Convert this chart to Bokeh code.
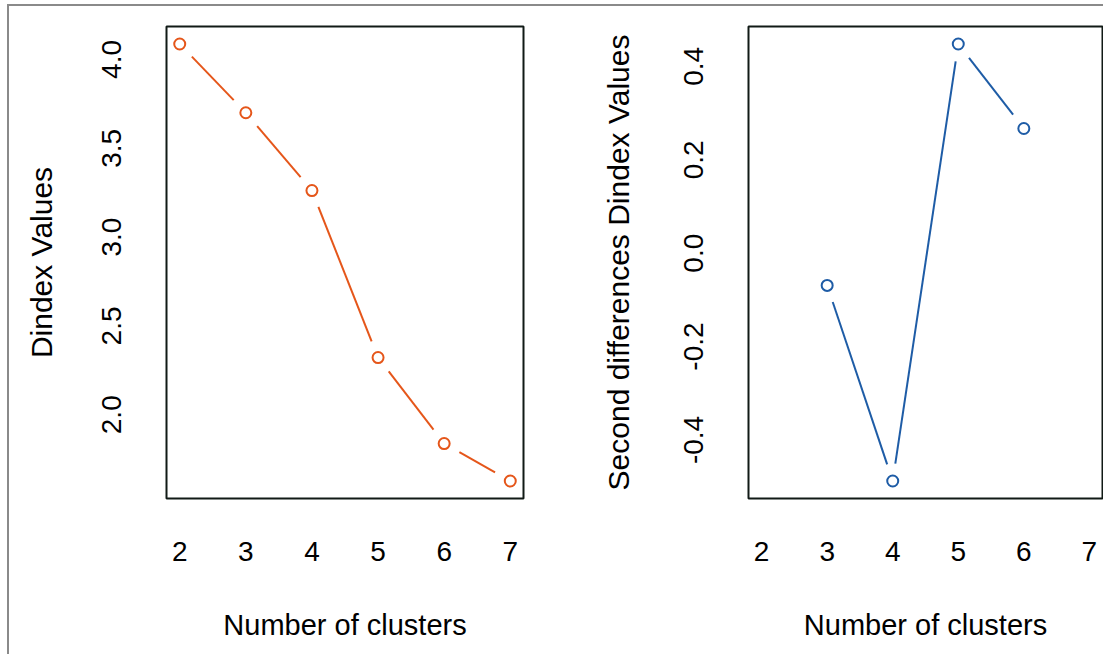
import math
from bokeh.plotting import figure
from bokeh.layouts import row
from bokeh.models import Range1d, FixedTicker, CustomJSTickFormatter
from bokeh.embed import file_html
from bokeh.resources import INLINE

# ---- data ----
clusters_left = [2, 3, 4, 5, 6, 7]
dindex_values = [4.087, 3.700, 3.262, 2.322, 1.838, 1.627]
clusters_right = [3, 4, 5, 6]
second_diff_values = [-0.069, -0.488, 0.448, 0.267]
x_tick_values = [2, 3, 4, 5, 6, 7]
left_y_ticks = [2.0, 2.5, 3.0, 3.5, 4.0]
right_y_ticks = [-0.4, -0.2, 0.0, 0.2, 0.4]
x_title = "Number of clusters"
left_y_title = "Dindex Values"
right_y_title = "Second differences Dindex Values"

FONT = "Liberation Sans"
ORANGE = "#e5561a"
BLUE = "#1e5ca6"
GAP = 17.5


def padded(lo, hi, frac=0.04):
    d = (hi - lo) * frac
    return Range1d(lo - d, hi + d)


def make_panel(xs, ys, color, ytitle, yticks, fw, fh, mb_left, mb_right,
               label_standoff, title_standoff):
    xr = padded(min(x_tick_values), max(x_tick_values))
    yr = padded(min(ys), max(ys))
    p = figure(frame_width=fw, frame_height=fh, x_range=xr, y_range=yr,
               output_backend="svg", toolbar_location=None, tools="",
               min_border_left=mb_left, min_border_right=mb_right,
               min_border_top=26, min_border_bottom=156)
    p.background_fill_color = "white"
    p.border_fill_color = None
    p.grid.visible = False
    p.outline_line_color = "#111a16"
    p.outline_line_width = 2

    # gapped line segments (R type="b")
    sx = fw / (xr.end - xr.start)
    sy = fh / (yr.end - yr.start)
    x0, y0, x1, y1 = [], [], [], []
    for i in range(len(xs) - 1):
        dx = (xs[i + 1] - xs[i]) * sx
        dy = (ys[i + 1] - ys[i]) * sy
        L = math.hypot(dx, dy)
        if L <= 2 * GAP:
            continue
        f = GAP / L
        x0.append(xs[i] + (xs[i + 1] - xs[i]) * f)
        y0.append(ys[i] + (ys[i + 1] - ys[i]) * f)
        x1.append(xs[i + 1] - (xs[i + 1] - xs[i]) * f)
        y1.append(ys[i + 1] - (ys[i + 1] - ys[i]) * f)
    p.segment(x0, y0, x1, y1, line_color=color, line_width=2)
    p.scatter(xs, ys, marker="circle", size=11, fill_color="white",
              line_color=color, line_width=2)

    for ax in (p.xaxis[0], p.yaxis[0]):
        ax.axis_line_color = None
        ax.major_tick_line_color = None
        ax.minor_tick_line_color = None
        ax.major_tick_out = 0
        ax.major_tick_in = 0
        ax.major_label_text_font = FONT
        ax.major_label_text_font_size = "28px"
        ax.major_label_text_color = "black"
        ax.axis_label_text_font = FONT
        ax.axis_label_text_font_style = "normal"
        ax.axis_label_text_color = "black"

    p.xaxis.ticker = FixedTicker(ticks=x_tick_values, minor_ticks=[])
    p.xaxis.formatter = CustomJSTickFormatter(code="return tick.toFixed(0);")
    p.xaxis.axis_label = x_title
    p.xaxis.axis_label_text_font_size = "29px"
    p.xaxis.major_label_standoff = 43
    p.xaxis.axis_label_standoff = 45

    p.yaxis.ticker = FixedTicker(ticks=yticks, minor_ticks=[])
    p.yaxis.formatter = CustomJSTickFormatter(code="return tick.toFixed(1);")
    p.yaxis.major_label_orientation = "vertical"
    p.yaxis.axis_label = ytitle
    p.yaxis.axis_label_text_font_size = "30px"
    p.yaxis.major_label_standoff = label_standoff
    p.yaxis.axis_label_standoff = title_standoff
    return p


p1 = make_panel(clusters_left, dindex_values, ORANGE, left_y_title, left_y_ticks,
                357, 472, 166, 37, 45, 42)
p2 = make_panel(clusters_right, second_diff_values, BLUE, right_y_title, right_y_ticks,
                354, 472, 188, 1, 45, 47)

GRAY = "#8a8a8a"
bg = (f"linear-gradient({GRAY},{GRAY}) 7px 4px / 2px calc(100% - 4px) no-repeat, "
      f"linear-gradient({GRAY},{GRAY}) 7px 4px / calc(100% - 7px) 2px no-repeat, white")
layout = row(p1, p2, styles={"background": bg})

open("out.html", "w").write(file_html(layout, INLINE))
